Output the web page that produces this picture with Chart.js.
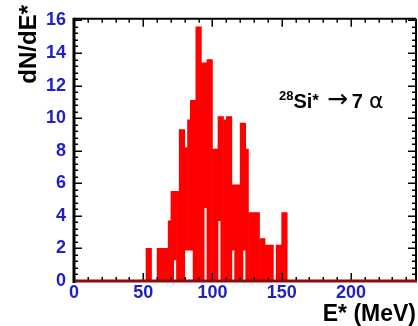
<!DOCTYPE html>
<html>
<head>
<meta charset="utf-8">
<script src="https://cdn.jsdelivr.net/npm/chart.js@4.4.1/dist/chart.umd.min.js"></script>
<style>
  html, body { margin: 0; padding: 0; background: #fff; }
  #wrap { width: 418px; height: 326px; }
</style>
</head>
<body>
<div id="wrap"><canvas id="spectrum" width="418" height="326"></canvas></div>
<script>
// 28Si* -> 7 alpha excitation energy spectrum, 2 MeV bins (centres in MeV)
const binCenters = [51, 53, 55, 57, 59, 61, 63, 65, 67, 69, 71, 73, 75, 77, 79, 81, 83, 85,
                    87, 89, 91, 93, 95, 97, 99, 101, 103, 105, 107, 109, 111, 113, 115, 117,
                    119, 121, 123, 125, 127, 129, 131, 133, 135, 137, 139, 141, 143, 145, 147,
                    149, 151, 153, 155];
// top of each red bin
const binTops = [0, 2, 2, 0, 0, 2, 2, 2, 2, 3.7, 5.5, 5.5, 5.5, 9.3, 9.3, 8.2, 9.9, 11.1,
                 11.1, 15.6, 15.6, 13.4, 13.4, 13.6, 13.6, 8.1, 8.1, 10.1, 10.1, 9.9, 10.1, 10.1, 5.9, 5.9,
                 5.9, 9.7, 9.7, 8.1, 4.2, 4.2, 4.2, 4.2, 2.6, 2.6, 2.2, 2.2, 2.2, 0, 2.2,
                 2.2, 4.2, 4.2, 0];
// lower edge of the red (white part underneath in the original)
const binBottoms = [0, 0, 0, 0, 0, 0, 0, 0, 0, 0, 0, 1.3, 0, 0, 0, 1.9, 1.9, 1.9,
                    0, 0, 0, 0, 4.5, 0, 0, 0, 0, 3.7, 0, 0, 0, 0, 1.9, 0,
                    0, 0, 1.9, 0, 0, 0, 0, 0, 0, 0, 0, 0, 0, 0, 0,
                    0, 0, 0, 0];
const xTickLabels = [0, 50, 100, 150, 200];
const yTickLabels = [0, 2, 4, 6, 8, 10, 12, 14, 16];

const FONT = '"Liberation Sans", Arial, Helvetica, sans-serif';
const BLUE = '#2020c8';

// ROOT-like frame with ticks pointing inwards
const frameTicks = {
    id: 'frameTicks',
    afterDatasetsDraw(chart) {
        const { ctx, chartArea: a, scales: { x, y } } = chart;
        ctx.save();
        ctx.strokeStyle = '#000';
        ctx.lineWidth = 1.5;
        ctx.beginPath();
        for (let v = 0; v <= x.max; v += 10) {
            const px = Math.round(x.getPixelForValue(v)) + 0.25;
            const len = v % 50 === 0 ? 8 : 4;
            ctx.moveTo(px, a.top); ctx.lineTo(px, a.top + len);
            ctx.moveTo(px, a.bottom); ctx.lineTo(px, a.bottom - len);
        }
        for (let i = 0; i * 0.4 <= y.max; i++) {
            const py = Math.round(y.getPixelForValue(i * 0.4)) + 0.25;
            const len = i % 5 === 0 ? 8 : 4;
            ctx.moveTo(a.left, py); ctx.lineTo(a.left + len, py);
            ctx.moveTo(a.right, py); ctx.lineTo(a.right - len, py);
        }
        ctx.stroke();

        ctx.lineWidth = 2;
        ctx.beginPath();
        ctx.moveTo(a.left, a.top); ctx.lineTo(a.right, a.top);
        ctx.moveTo(a.right, a.top); ctx.lineTo(a.right, a.bottom);
        ctx.stroke();

        ctx.strokeStyle = '#8c0c0c';
        ctx.lineWidth = 3;
        ctx.beginPath();
        ctx.moveTo(a.left, a.bottom); ctx.lineTo(a.right + 1, a.bottom);
        ctx.stroke();

        ctx.strokeStyle = '#000';
        ctx.lineWidth = 3;
        ctx.beginPath();
        ctx.moveTo(a.left, a.top - 1); ctx.lineTo(a.left, a.bottom + 2);
        ctx.stroke();
        ctx.restore();
    }
};

const labels = {
    id: 'labels',
    afterDraw(chart) {
        const { ctx, scales: { x, y } } = chart;
        ctx.save();
        ctx.fillStyle = '#000';

        // y axis title, right-aligned to the top
        ctx.save();
        ctx.translate(29, 5);
        ctx.rotate(-Math.PI / 2);
        ctx.textAlign = 'right';
        ctx.textBaseline = 'middle';
        ctx.font = 'bold 24px ' + FONT;
        ctx.fillText('dN/dE*', 0, 0);
        ctx.restore();

        // reaction label
        let px = x.getPixelForValue(148);
        const base = y.getPixelForValue(10.6);
        ctx.textBaseline = 'alphabetic';
        ctx.textAlign = 'left';
        const parts = [
            { t: '28', f: 'bold 13px ' + FONT, dy: -8, gap: 0 },
            { t: 'Si', f: 'bold 20px ' + FONT, dy: 0, gap: 0 },
            { t: '*', f: 'bold 17px ' + FONT, dy: -2, gap: 8 },
            { t: '\u2192', f: '25px "DejaVu Sans"', dy: -1, gap: 4 },
            { t: '7', f: 'bold 20px ' + FONT, dy: 0, gap: 6 },
            { t: '\u03b1', f: '22px "DejaVu Sans"', dy: 0, gap: 0 }
        ];
        parts.forEach(p => {
            ctx.font = p.f;
            ctx.fillText(p.t, px, base + p.dy);
            px += ctx.measureText(p.t).width + p.gap;
        });
        ctx.restore();
    }
};

const ctx = document.getElementById('spectrum').getContext('2d');
new Chart(ctx, {
    type: 'bar',
    data: {
        datasets: [{
            data: binCenters.map((e, i) => ({ x: e, y: [binBottoms[i], binTops[i]] })),
            backgroundColor: '#ff0000',
            borderWidth: 0,
            barPercentage: 1,
            categoryPercentage: 1
        }]
    },
    options: {
        responsive: false,
        animation: false,
        devicePixelRatio: 1,
        layout: { padding: { top: 14, right: 2, left: 0, bottom: 0 } },
        plugins: {
            legend: { display: false },
            tooltip: { enabled: false }
        },
        scales: {
            x: {
                type: 'linear',
                min: 0,
                max: 247,
                offset: false,
                grid: { display: false, drawTicks: false },
                border: { display: false },
                afterBuildTicks: s => { s.ticks = xTickLabels.map(v => ({ value: v })); },
                afterFit: s => { s.height = 45; },
                ticks: {
                    color: BLUE,
                    padding: 1,
                    maxRotation: 0,
                    autoSkip: false,
                    font: { family: FONT, size: 18, weight: 'bold' }
                },
                title: {
                    display: true,
                    text: 'E* (MeV)',
                    align: 'end',
                    color: '#000',
                    padding: 0,
                    font: { family: FONT, size: 23, weight: 'bold', lineHeight: 1 }
                }
            },
            y: {
                min: 0,
                max: 16.1,
                grid: { display: false, drawTicks: false },
                border: { display: false },
                afterBuildTicks: s => { s.ticks = yTickLabels.map(v => ({ value: v })); },
                afterFit: s => { s.width = 74; },
                ticks: {
                    color: BLUE,
                    padding: 8,
                    font: { family: FONT, size: 18, weight: 'bold' }
                }
            }
        }
    },
    plugins: [frameTicks, labels]
});
</script>
</body>
</html>
